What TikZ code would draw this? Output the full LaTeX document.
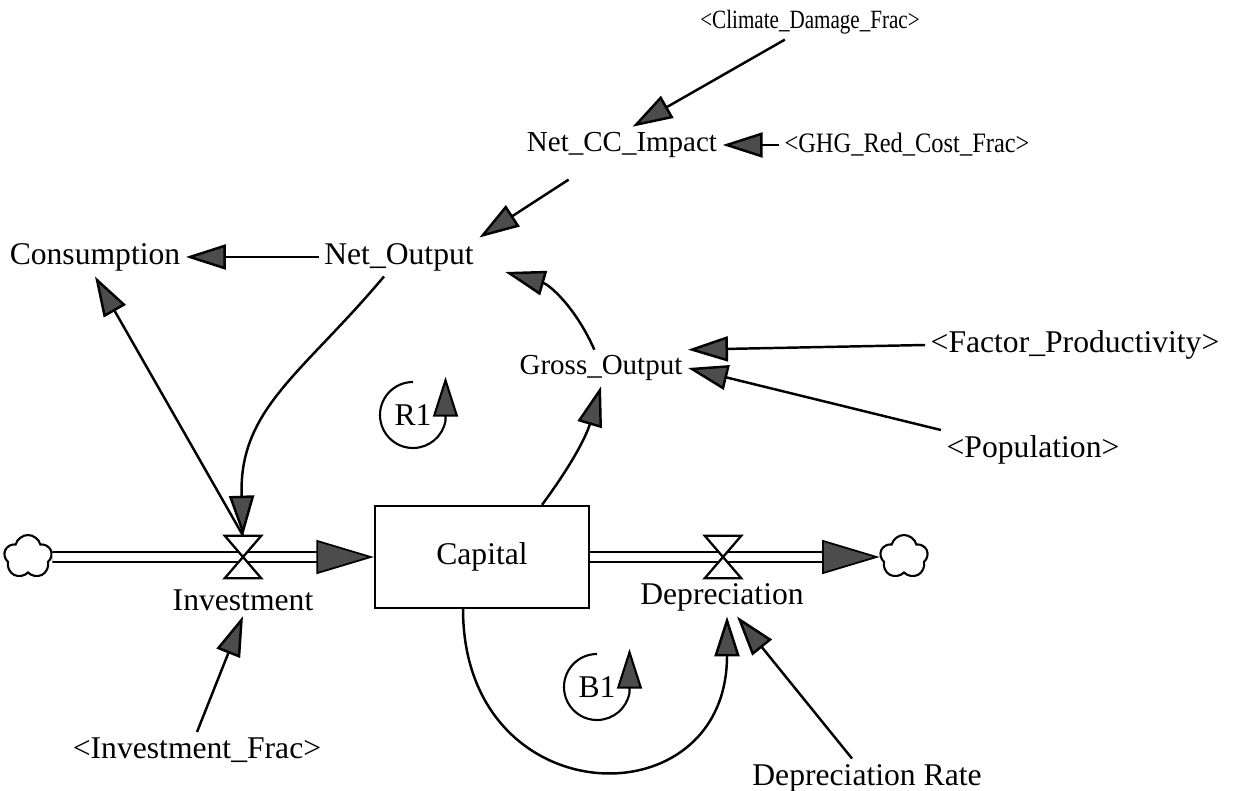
\documentclass[tikz,border=0pt]{standalone}
\usepackage{fontspec}
\setmainfont{Liberation Serif}
\usetikzlibrary{
  arrows.meta,
  shapes.symbols
}
\tikzset{
  var/.style={
    inner sep=3pt,
    font=\fontsize{18}{20}\selectfont},
  stock/.style={
    draw,
    line width=1.3pt,
    minimum width=42.8mm,
    minimum height=20.4mm,
    font=\fontsize{18}{20}\selectfont},
  causal/.style={
    -{Triangle[length=8mm,width=5mm,fill=black!70]},
    line width=1.4pt},
  pipe/.style={
    double,
    double distance=4.5pt,
    line width=1.1pt},
  flowtip/.style={
    -{Triangle[length=11.5mm,width=6.8mm,fill=black!70]},
    line width=1pt},
  valvebox/.style={
    minimum width=7.2mm,
    minimum height=8.4mm,
    inner sep=0pt},
  valve/.style={
    fill=white,
    line width=1.3pt},
  sink/.style={
    cloud,
    cloud puffs=5,
    draw,
    fill=white,
    line width=1.2pt,
    inner sep=0pt,
    minimum width=9.6mm,
    minimum height=8.8mm},
  loopmark/.style={
    causal,
    line width=1.2pt}
}

\begin{document}
\begin{tikzpicture}[x=0.2mm, y=0.2mm]
		\useasboundingbox (0,0) rectangle (1236,790);
		\node [var, font=\fontsize{15}{17}\selectfont] (cdf) at (810,768) {\scalebox{0.8}[1]{<Climate\_Damage\_Frac>}};
		\node [var, font=\fontsize{16.5}{18}\selectfont] (ncc) at (622,645) {Net\_CC\_Impact};
		\node [var, font=\fontsize{16}{18}\selectfont] (ghg) at (907,645) {\scalebox{0.87}[1]{<GHG\_Red\_Cost\_Frac>}};
		\node [var] (cons) at (95,533) {Consumption};
		\node [var] (nout) at (399,533) {Net\_Output};
		\node [var, font=\fontsize{16.5}{18}\selectfont] (gout) at (601,422) {Gross\_Output};
		\node [var] (fprod) at (1075,445) {<Factor\_Productivity>};
		\node [var] (pop) at (1033,340) {<Population>};
		\node [stock] (capital) at (482,233) {Capital};
		\node [valvebox] (vinv) at (243,233) {};
		\node [var] (inv) at (243,190) {Investment};
		\node [valvebox] (vdep) at (723,233) {};
		\node [var] (dep) at (722,193) {Depreciation};
		\node [var] (ifrac) at (197,40) {<Investment\_Frac>};
		\node [var] (drate) at (867,12) {Depreciation Rate};
		\node [sink] (cloudL) at (28,233) {};
		\node [sink] (cloudR) at (904,233) {};
		\node [var] (R1) at (413,375) {R1};
		\node [var] (B1) at (597,103) {B1};
		% flows
		\draw [pipe, shorten >=11mm] (cloudL) -- (capital);
		\draw [flowtip] ([xshift=-11mm]capital.west) -- (capital.west);
		\draw [pipe, shorten >=11mm] (capital) -- (cloudR);
		\draw [flowtip] ([xshift=-11mm]cloudR.west) -- (cloudR.west);
		\foreach \v in {vinv, vdep}
			\draw [valve] (\v.north west) -- (\v.north east) -- (\v.center) -- cycle
				(\v.south west) -- (\v.south east) -- (\v.center) -- cycle;
		% links
		\draw [causal] (cdf.215) -- (ncc.60);
		\draw [causal] (ghg.west) -- (ncc.east);
		\draw [causal, shorten <=6mm] (ncc) -- (nout.north east);
		\draw [causal] (nout.west) -- (cons.east);
		\draw [causal] (gout.110) to [bend right=25] ([shift={(26,-15)}]nout.east);
		\draw [causal] (capital.41) to [bend right=10] (gout.south);
		\draw [causal] (fprod.west) -- (gout.north east);
		\draw [causal] (pop.north west) -- (gout.east);
		\draw [causal] ([xshift=-3mm]nout.south) to [out=230, in=92, looseness=1.1] (vinv.north);
		\draw [causal] (vinv.north) -- (cons.south);
		\draw [causal] (ifrac.north) -- (inv.south);
		\draw [causal] (capital.250) to [out=270, in=270, looseness=2] ([xshift=1mm]dep.south);
		\draw [causal] ([xshift=-3mm]drate.north) -- ([xshift=3mm]dep.south);
		% loops
		\draw [loopmark] (R1) ++(0,33) arc [start angle=90, end angle=350, radius=33] -- ++(0,44);
		\draw [loopmark] (B1) ++(0,33) arc [start angle=90, end angle=350, radius=33] -- ++(0,44);
	\end{tikzpicture}
\end{document}
